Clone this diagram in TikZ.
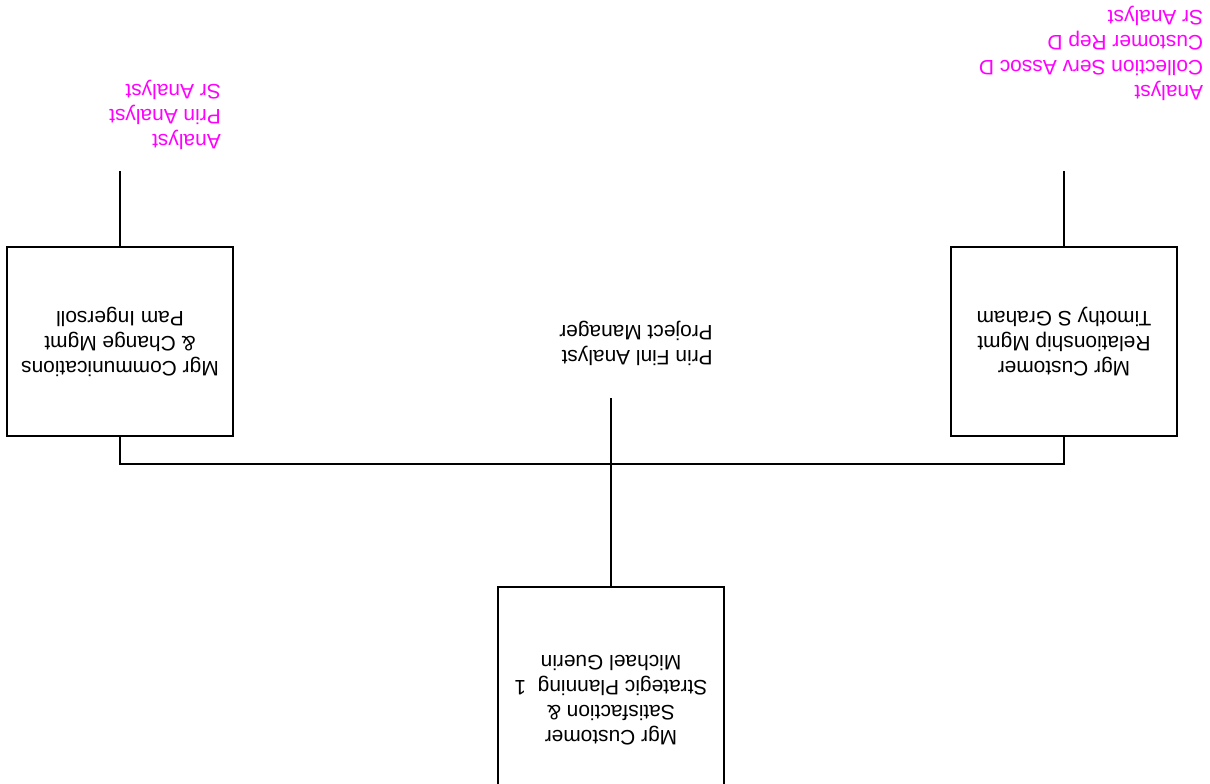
\documentclass[tikz,border=0pt]{standalone}
\usepackage{fontspec}
\setmainfont{Liberation Sans}
\usetikzlibrary{positioning}
\definecolor{staffpink}{RGB}{255,0,255}
\tikzset{
  orgbox/.style={draw, line width=0.9pt, rotate=180, minimum width=4.52cm, minimum height=3.78cm, align=center, inner sep=0pt},
  assistant/.style={rotate=180, align=left, inner sep=0pt},
  staff/.style={rotate=180, align=left, inner sep=0pt, text=staffpink},
  orgline/.style={line width=0.9pt}
}

\begin{document}
\begin{tikzpicture}[x=0.02cm, y=-0.02cm, every node/.style={font=\fontsize{11.9}{14.2}\selectfont}]
  \clip (0,0) rectangle (1210,784);
  \useasboundingbox (0,0) rectangle (1210,784);
  % boxes (the chart is printed upside down)
  \node[orgbox, minimum height=4.52cm] (satis) at (611,700) {Mgr Customer\\Satisfaction \&\\Strategic Planning~~1\\Michael Guerin};
  \node[orgbox] (comms) at (120,341.5) {Mgr Communications\\\& Change Mgmt\\Pam Ingersoll};
  \node[orgbox] (crm) at (1064,341.5) {Mgr Customer\\Relationship Mgmt\\Timothy S Graham};
  \node[assistant] (finl) at (636,343) {Prin Finl Analyst\\Project Manager};
  \node[staff] (commsstaff) at (165,115) {Analyst\\Prin Analyst\\Sr Analyst};
  \node[staff] (crmstaff) at (1091,53) {Analyst\\Collection Serv Assoc D\\Customer Rep D\\Sr Analyst};
  % connectors
  \coordinate (finltop) at (611,398);
  \coordinate (busl) at (120,464);
  \coordinate (busr) at (1064,464);
  \coordinate (commstop) at (120,171);
  \coordinate (crmtop) at (1064,171);
  \draw[orgline] (finltop) -- (satis.south);
  \draw[orgline] (comms.north) -- (busl) -- (busr) -- (crm.north);
  \draw[orgline] (commstop) -- (comms.south);
  \draw[orgline] (crmtop) -- (crm.south);
\end{tikzpicture}
\end{document}
